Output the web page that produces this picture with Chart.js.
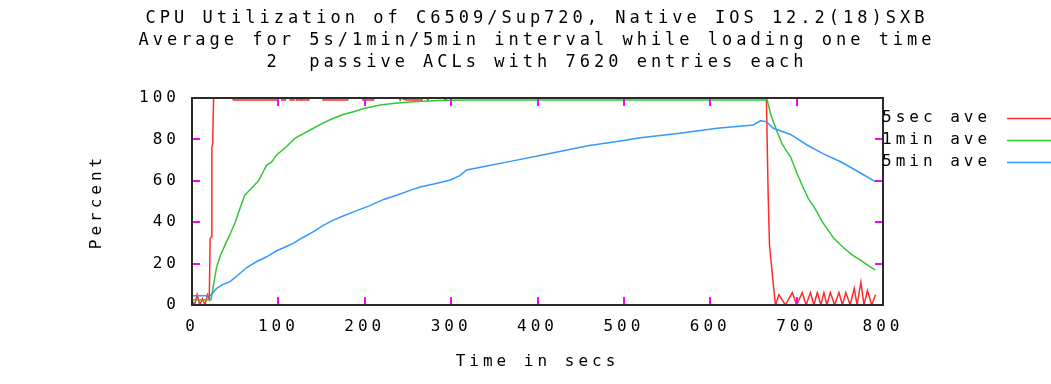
<!DOCTYPE html>
<html>
<head>
<meta charset="utf-8">
<script src="https://cdn.jsdelivr.net/npm/chart.js@4/dist/chart.umd.min.js"></script>
<style>
  body { margin: 0; background: #fff; }
  canvas { display: block; }
</style>
</head>
<body>
<canvas id="cpuChart" width="1051" height="384"></canvas>
<script>
// values
const titleLines = [
    'CPU Utilization of C6509/Sup720, Native IOS 12.2(18)SXB',
    'Average for 5s/1min/5min interval while loading one time',
    '2  passive ACLs with 7620 entries each'
];
const seriesNames = ['5sec ave', '1min ave', '5min ave'];
const seriesColors = ['#ff2a2a', '#33c633', '#3399ff'];

const redTime = [0, 3, 6, 9, 12, 15, 18, 20, 21, 22.5, 23, 24, 25, 47, 48, 99, 100, 103, 104, 108, 109, 113, 114, 117, 118, 120, 121, 124, 125, 126, 127, 135, 136, 151, 152, 180, 181, 197, 198, 210, 211, 240, 241, 242, 248, 266, 267, 272, 273, 274, 292, 293, 294,
    665, 667, 668.6, 673, 675.5, 679.5, 687, 695, 700, 706.5, 711, 716, 720, 724, 728, 731.6, 735, 739, 744, 749, 753, 757, 762, 766.7, 770, 774.4, 778, 782, 787, 791.4];
const redValue = [2, 0, 5, 0, 3, 0, 5, 3, 32, 33, 76, 78, 100, 100, 99, 99, 100, 100, 99, 99, 100, 100, 99, 99, 100, 100, 99, 99, 100, 100, 99, 99, 100, 100, 99, 99, 100, 100, 99, 99, 100, 100, 99, 100, 99, 99, 100, 100, 99, 100, 100, 99, 100,
    100, 54, 29, 10, 0, 5, 0, 6, 0, 6, 0, 6, 0, 6, 0, 6, 0, 6, 0, 6, 0, 6, 0, 8, 0, 11, 0, 7, 0, 5];

const greenTime = [0, 22, 25, 28.6, 33, 40, 45, 50, 55, 61, 68, 77, 82, 86.5, 92, 98, 108, 119, 130, 140.6, 152, 163.7, 175, 187, 200, 218, 235, 256, 285, 314, 400, 500, 600, 660, 666,
    670, 677.5, 683, 689, 693, 700, 708, 714, 720, 730, 743, 755, 765, 774, 783, 791];
const greenValue = [2.5, 2.5, 10, 18.5, 24, 30.6, 35, 40, 46, 53, 56, 60, 64, 67.6, 69, 72.5, 76, 80.5, 83, 85.4, 88, 90.2, 92, 93.4, 95, 96.6, 97.5, 98.2, 98.8, 99, 99, 99, 99, 99, 99,
    92, 83.7, 78, 74, 71.6, 64, 56.4, 51, 47.5, 40, 32.2, 27.4, 24, 21.7, 19, 17];

const blueTime = [0, 21, 28.6, 36, 44, 52, 63, 75, 86.5, 98, 108, 117, 128, 140.6, 152, 163.7, 175, 187, 206, 222, 237, 250, 264, 280, 299, 310, 318, 340, 370, 400, 430, 460, 500, 519, 565, 608, 650, 658,
    665, 673, 693, 712, 731, 751, 771, 791];
const blueValue = [4.5, 4.5, 8, 10, 11.3, 14, 18, 21, 23.3, 26.2, 28, 29.8, 32.5, 35.4, 38.5, 41, 43, 45, 48, 51, 53, 55, 57, 58.5, 60.4, 62.5, 65.2, 67, 69.5, 72, 74.5, 77, 79.5, 80.8, 83, 85.4, 87, 89,
    88.5, 85.4, 82.4, 77.3, 73, 69.2, 64.5, 59.6];

const xTicks = [0, 100, 200, 300, 400, 500, 600, 700, 800];
const yTicks = [0, 20, 40, 60, 80, 100];

const FONT = "'DejaVu Sans Mono', monospace";
const TICK_COLOR = 'magenta';

function toPoints(times, values) {
    return times.map((t, i) => ({ x: t, y: values[i] }));
}

// gnuplot-ish wide spacing for all text
const spacingPlugin = {
    id: 'spacing',
    beforeLayout(chart) { chart.ctx.letterSpacing = '4px'; },
    beforeDraw(chart) { chart.ctx.letterSpacing = '4px'; }
};

// border box + inward ticks on all four sides
const framePlugin = {
    id: 'frame',
    afterDraw(chart) {
        const c = chart.ctx;
        const a = chart.chartArea;
        const sx = chart.scales.x, sy = chart.scales.y;
        c.save();
        c.fillStyle = TICK_COLOR;
        xTicks.slice(1, -1).forEach(v => {
            const px = Math.round(sx.getPixelForValue(v)) - 1;
            c.fillRect(px, a.bottom - 8, 2, 8);
            c.fillRect(px, a.top, 2, 8);
        });
        yTicks.slice(1, -1).forEach(v => {
            const py = Math.round(sy.getPixelForValue(v)) - 1;
            c.fillRect(a.left, py, 8, 2);
            c.fillRect(a.right - 8, py, 8, 2);
        });
        c.strokeStyle = '#2a2a2a';
        c.lineWidth = 2;
        c.strokeRect(a.left, a.top, a.right - a.left, a.bottom - a.top);
        c.restore();
    }
};

// key: text first, then line sample (right of the plot)
const keyPlugin = {
    id: 'key',
    afterDraw(chart) {
        const c = chart.ctx;
        const a = chart.chartArea;
        c.save();
        c.font = '16px ' + FONT;
        c.fillStyle = '#000';
        c.textAlign = 'left';
        c.textBaseline = 'middle';
        chart.data.datasets.forEach((ds, i) => {
            const y = a.top + 20 + i * 22;
            c.fillText(ds.label, a.right - 1, y);
            c.strokeStyle = ds.borderColor;
            c.lineWidth = 1.5;
            c.beginPath();
            c.moveTo(a.right + 124, y + 0.5);
            c.lineTo(chart.width, y + 0.5);
            c.stroke();
        });
        c.restore();
    }
};

const ctx = document.getElementById('cpuChart').getContext('2d');
new Chart(ctx, {
    type: 'line',
    data: {
        datasets: [
            { label: seriesNames[0], data: toPoints(redTime, redValue), borderColor: seriesColors[0], order: 3 },
            { label: seriesNames[1], data: toPoints(greenTime, greenValue), borderColor: seriesColors[1], order: 2 },
            { label: seriesNames[2], data: toPoints(blueTime, blueValue), borderColor: seriesColors[2], order: 1 }
        ]
    },
    options: {
        responsive: false,
        animation: false,
        devicePixelRatio: 1,
        layout: { padding: { left: 23, right: 0, top: 0, bottom: 0 } },
        elements: {
            point: { radius: 0 },
            line: { borderWidth: 1.5, tension: 0, fill: false }
        },
        plugins: {
            legend: { display: false },
            tooltip: { enabled: false },
            title: {
                display: true,
                text: titleLines,
                color: '#000',
                font: { family: FONT, size: 17, weight: 'normal', lineHeight: '22px' },
                padding: { top: 8, bottom: 24 }
            }
        },
        scales: {
            x: {
                type: 'linear',
                min: 0, max: 800,
                afterBuildTicks: s => { s.ticks = xTicks.map(v => ({ value: v })); },
                afterFit: s => { s.height = 79; },
                grid: { display: false, drawTicks: false },
                border: { display: false },
                ticks: { color: '#000', padding: 12, maxRotation: 0, autoSkip: false, font: { family: FONT, size: 16 } },
                title: { display: true, text: 'Time in secs', color: '#000', padding: { top: 0, bottom: 13 }, font: { family: FONT, size: 16 } }
            },
            y: {
                min: 0, max: 100,
                afterBuildTicks: s => { s.ticks = yTicks.map(v => ({ value: v })); },
                afterFit: s => { s.width = 169; },
                grid: { display: false, drawTicks: false },
                border: { display: false },
                ticks: { color: '#000', padding: 12, font: { family: FONT, size: 16 } },
                title: { display: true, text: 'Percent', color: '#000', padding: { top: 64, bottom: 0 }, font: { family: FONT, size: 16 } }
            },
            y2: {
                position: 'right',
                afterFit: s => { s.width = 168; },
                grid: { display: false },
                border: { display: false },
                ticks: { display: false }
            }
        }
    },
    plugins: [spacingPlugin, framePlugin, keyPlugin]
});
</script>
</body>
</html>
